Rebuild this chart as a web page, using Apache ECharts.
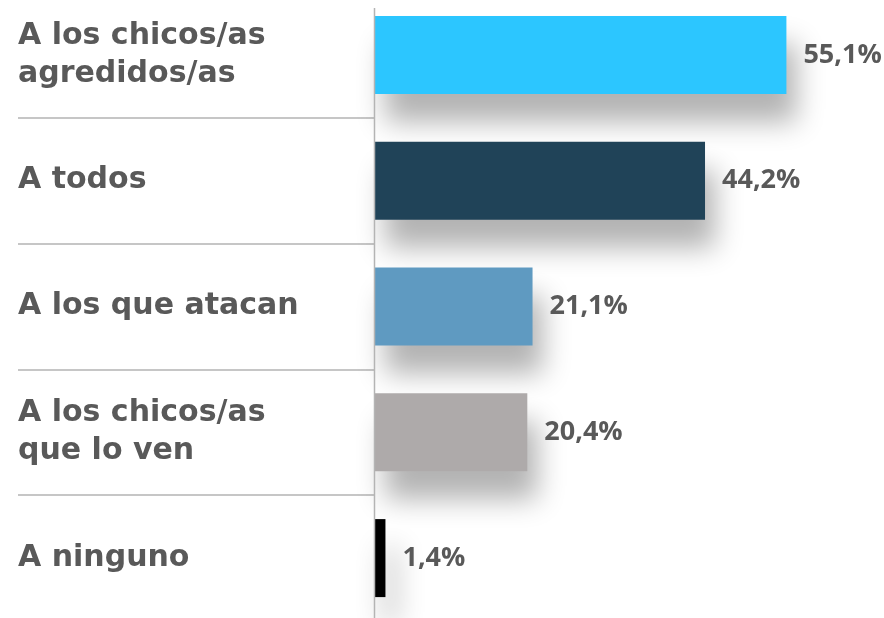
<!DOCTYPE html>
<html lang="es">
<head>
<meta charset="utf-8">
<title>chart</title>
<script src="https://cdn.jsdelivr.net/npm/echarts@6/dist/echarts.min.js"></script>
<style>
  html, body { margin: 0; padding: 0; background: #fff; }
  #container { width: 884px; height: 618px; }
</style>
</head>
<body>
<div id="container"></div>
<script>
// data
var categories = ['A los chicos/as\nagredidos/as', 'A todos', 'A los que atacan', 'A los chicos/as\nque lo ven', 'A ninguno'];
var values = [55.1, 44.2, 21.1, 20.4, 1.4];
var colors = ['#2cc6ff', '#204358', '#5f9ac1', '#aeaaaa', '#000000'];

var txtColor = '#595959';

var myChart = echarts.init(document.getElementById('container'));

var data = [];
for (var i = 0; i < values.length; i++) {
  data.push({ value: values[i], itemStyle: { color: colors[i] } });
}

var option = {
  animation: false,
  grid: { left: 375, right: 61, top: -8, bottom: -3, outerBoundsMode: 'none', containLabel: false },
  xAxis: {
    type: 'value',
    min: 0,
    max: 60,
    show: false
  },
  yAxis: {
    type: 'category',
    data: categories,
    inverse: true,
    axisLine: { show: false },
    axisTick: {
      show: true,
      length: 357,
      lineStyle: { color: '#b4b4b4', width: 1.5 }
    },
    axisLabel: {
      align: 'left',
      margin: 357,
      color: txtColor,
      fontFamily: '"DejaVu Sans", sans-serif',
      fontWeight: 'bold',
      fontSize: 30,
      lineHeight: 38
    }
  },
  series: [{
    type: 'bar',
    data: data,
    barWidth: 78,
    itemStyle: {
      shadowColor: 'rgba(0,0,0,0.3)',
      shadowBlur: 28,
      shadowOffsetX: 10,
      shadowOffsetY: 28
    },
    label: {
      show: true,
      position: 'right',
      distance: 17,
      color: txtColor,
      fontFamily: '"Open Sans", sans-serif',
      fontWeight: 'bold',
      fontSize: 27,
      formatter: function (p) {
        return String(p.value).replace('.', ',') + '%';
      }
    }
  }]
};
myChart.setOption(option);

// vertical axis line at value 0, from just below the top edge
var x0 = myChart.convertToPixel({ xAxisIndex: 0 }, 0);
myChart.setOption({
  graphic: [{
    type: 'line',
    z: 10,
    shape: { x1: x0 - 0.5, y1: 8, x2: x0 - 0.5, y2: 618 },
    style: { stroke: '#b4b4b4', lineWidth: 1.5 }
  }]
});
</script>
</body>
</html>
